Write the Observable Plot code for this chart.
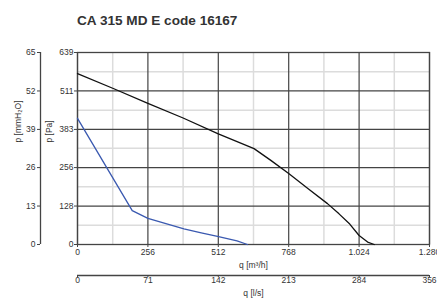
<!DOCTYPE html>
<html><head><meta charset="utf-8">
<script src="https://cdn.jsdelivr.net/npm/d3@7"></script>
<script src="https://cdn.jsdelivr.net/npm/@observablehq/plot@0.6"></script>
<style>
body{margin:0;background:#fff;font-family:"Liberation Sans",Arial,sans-serif;}
#title{height:36px;box-sizing:border-box;padding:13px 0 0 77px;font-size:13.6px;line-height:15px;font-weight:bold;color:#333;}
</style></head><body>
<div id="title">CA 315 MD E code 16167</div>
<div id="chart"></div>
<script>
// black curve (upper)
const blackQ  = [0, 128, 256, 384, 512, 642, 703, 768, 840, 909, 951, 990, 1024, 1055, 1079];
const blackPa = [569, 520, 470, 421, 368, 319, 280, 236, 185, 136, 102, 68, 30, 8, 0];
// blue curve (lower)
const blueQ  = [0, 199, 256, 387, 450, 509, 580, 618];
const bluePa = [420, 113, 87, 52, 39, 27, 12, 0];

const qTicks = [0, 256, 512, 768, 1024, 1280];
const qTickLabels = ["0", "256", "512", "768", "1.024", "1.280"];
const lsTickLabels = ["0", "71", "142", "213", "284", "356"];
const qMinor = [128, 384, 640, 896, 1152];
const paTicks = [0, 128, 256, 383, 511, 639];
const paTickLabels = ["0", "128", "256", "383", "511", "639"];
const mmTickLabels = ["0", "13", "26", "39", "52", "65"];
const paMinor = [64, 192, 320, 447, 575];

const black = blackQ.map((q, i) => ({q, p: blackPa[i]}));
const blue = blueQ.map((q, i) => ({q, p: bluePa[i]}));

const dark = "#444";
const chart = Plot.plot({
  width: 437, height: 262,
  marginTop: 16, marginBottom: 54, marginLeft: 77, marginRight: 8,
  style: {fontFamily: "Liberation Sans, Arial, sans-serif", fontSize: "8.5px", color: "#333", overflow: "visible", background: "#fff"},
  x: {domain: [0, 1280]},
  y: {domain: [0, 639]},
  marks: [
    Plot.gridX(qMinor, {stroke: "#dcdcdc", strokeOpacity: 1, strokeWidth: 1.5}),
    Plot.gridY(paMinor, {stroke: "#dcdcdc", strokeOpacity: 1, strokeWidth: 1.5}),
    Plot.gridX(qTicks, {stroke: dark, strokeOpacity: 1, strokeWidth: 1.2}),
    Plot.gridY(paTicks, {stroke: dark, strokeOpacity: 1, strokeWidth: 1.2}),
    Plot.frame({stroke: dark, strokeWidth: 1.3}),
    Plot.axisX(qTicks, {tickFormat: d => qTickLabels[qTicks.indexOf(d)], tickSize: 3, tickPadding: 1, label: null, stroke: dark}),
    Plot.axisY(paTicks, {tickFormat: d => paTickLabels[paTicks.indexOf(d)], tickSize: 3, tickPadding: 1, label: null, stroke: dark}),
    Plot.axisY(paTicks, {tickFormat: d => mmTickLabels[paTicks.indexOf(d)], tickSize: 3, tickPadding: 2, label: null, dx: -37, stroke: dark}),
    Plot.ruleX([0], {y1: 0, y2: 639, dx: -37, stroke: dark, strokeWidth: 1.3}),
    Plot.ruleY([0], {x1: 0, x2: 1280, dy: 31, stroke: dark, strokeWidth: 1.3}),
    Plot.axisX(qTicks, {text: null, tickSize: 2, dy: 31, label: null, stroke: dark}),
    Plot.text(qTicks, {x: d => d, text: (d, i) => lsTickLabels[i], frameAnchor: "bottom", dy: 38, fill: "#333"}),
    Plot.text(["q [m³/h]"], {frameAnchor: "bottom", dy: 23.5, fill: "#333", fontSize: 8.5}),
    Plot.text(["q [l/s]"], {frameAnchor: "bottom", dy: 51, fill: "#333", fontSize: 8.5}),
    Plot.text(["p [Pa]"], {frameAnchor: "left", dx: -28, dy: -6, rotate: -90, fill: "#333", fontSize: 8.5}),
    Plot.text(["p [mmH₂O]"], {frameAnchor: "left", dx: -59, dy: -6, rotate: -90, fill: "#333", fontSize: 8.5}),
    Plot.line(blue, {x: "q", y: "p", stroke: "#3a59b0", strokeWidth: 1.3}),
    Plot.line(black, {x: "q", y: "p", stroke: "#111", strokeWidth: 1.3})
  ]
});
document.getElementById("chart").appendChild(chart);
</script>
</body></html>
